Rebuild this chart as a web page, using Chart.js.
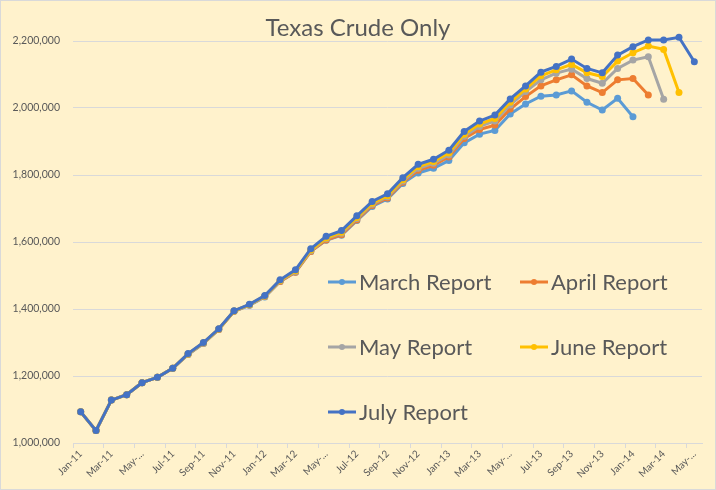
<!DOCTYPE html>
<html>
<head>
<meta charset="utf-8">
<title>Texas Crude Only</title>
<script src="https://cdn.jsdelivr.net/npm/chart.js@4.4.1/dist/chart.umd.min.js"></script>
<style>
    html, body { margin: 0; padding: 0; background: #fff2cc; }
    #wrap { width: 716px; height: 490px; }
</style>
</head>
<body>
<div id="wrap"><canvas id="crudeChart" width="716" height="490"></canvas></div>
<script>
// 月份标签 (Jan-11 .. May-14)
const months = [
    'Jan-11', 'Feb-11', 'Mar-11', 'Apr-11', 'May-11', 'Jun-11', 'Jul-11', 'Aug-11', 'Sep-11', 'Oct-11', 'Nov-11', 'Dec-11',
    'Jan-12', 'Feb-12', 'Mar-12', 'Apr-12', 'May-12', 'Jun-12', 'Jul-12', 'Aug-12', 'Sep-12', 'Oct-12', 'Nov-12', 'Dec-12',
    'Jan-13', 'Feb-13', 'Mar-13', 'Apr-13', 'May-13', 'Jun-13', 'Jul-13', 'Aug-13', 'Sep-13', 'Oct-13', 'Nov-13', 'Dec-13',
    'Jan-14', 'Feb-14', 'Mar-14', 'Apr-14', 'May-14'
];

// 各期报告数据 (桶/日)
const marchReport = [
    1093000, 1037000, 1128000, 1144000, 1180000, 1196000, 1223000, 1264000, 1297000, 1339000, 1393000, 1411000,
    1436000, 1482000, 1510000, 1572000, 1605000, 1620000, 1664000, 1706000, 1728000, 1775000, 1806000, 1820000,
    1843000, 1896000, 1922000, 1933000, 1982000, 2012000, 2035000, 2039000, 2051000, 2017000, 1994000, 2029000,
    1974000
];
const aprilReport = [
    1093000, 1037000, 1128000, 1144000, 1180000, 1196000, 1223000, 1265000, 1298000, 1339000, 1393000, 1412000,
    1437000, 1482000, 1510000, 1572000, 1606000, 1622000, 1666000, 1709000, 1731000, 1778000, 1814000, 1829000,
    1854000, 1909000, 1936000, 1949000, 1997000, 2034000, 2066000, 2084000, 2099000, 2066000, 2046000, 2084000,
    2088000, 2039000
];
const mayReport = [
    1093000, 1037000, 1128000, 1144000, 1180000, 1196000, 1223000, 1265000, 1298000, 1340000, 1394000, 1412000,
    1438000, 1484000, 1512000, 1574000, 1610000, 1626000, 1670000, 1713000, 1735000, 1782000, 1820000, 1835000,
    1860000, 1916000, 1945000, 1961000, 2009000, 2049000, 2084000, 2104000, 2116000, 2088000, 2074000, 2118000,
    2143000, 2153000, 2026000
];
const juneReport = [
    1093000, 1037000, 1128000, 1144000, 1180000, 1196000, 1223000, 1266000, 1299000, 1340000, 1394000, 1413000,
    1439000, 1485000, 1514000, 1576000, 1612000, 1629000, 1673000, 1716000, 1738000, 1786000, 1825000, 1840000,
    1866000, 1922000, 1952000, 1969000, 2017000, 2057000, 2096000, 2114000, 2130000, 2105000, 2094000, 2140000,
    2165000, 2185000, 2175000, 2046000
];
const julyReport = [
    1093000, 1037000, 1128000, 1144000, 1180000, 1196000, 1223000, 1267000, 1300000, 1341000, 1395000, 1414000,
    1440000, 1487000, 1517000, 1580000, 1617000, 1634000, 1678000, 1721000, 1744000, 1792000, 1832000, 1847000,
    1874000, 1930000, 1961000, 1979000, 2027000, 2066000, 2107000, 2124000, 2146000, 2118000, 2105000, 2158000,
    2183000, 2203000, 2203000, 2211000, 2138000
];

const seriesNames = ['March Report', 'April Report', 'May Report', 'June Report', 'July Report'];
const seriesColors = ['#5b9bd5', '#ed7d31', '#a5a5a5', '#ffc000', '#4472c4'];
const seriesData = [marchReport, aprilReport, mayReport, juneReport, julyReport];

const textColor = '#595959';
const gridColor = '#d9d9d9';
const fontFamily = 'Lato, "Open Sans", sans-serif';

// 背景和边框
const backgroundPlugin = {
    id: 'background',
    beforeDraw(chart) {
        const ctx = chart.ctx;
        ctx.save();
        ctx.fillStyle = '#fff2cc';
        ctx.fillRect(0, 0, chart.width, chart.height);
        ctx.strokeStyle = gridColor;
        ctx.lineWidth = 1;
        ctx.strokeRect(0.5, 0.5, chart.width - 1, chart.height - 1);
        ctx.restore();
    }
};

// 图表内部的图例 (两列)
const insideLegendPlugin = {
    id: 'insideLegend',
    afterDraw(chart) {
        const ctx = chart.ctx;
        const colX = [328, 520];
        const rowY = [282, 347, 412];
        ctx.save();
        ctx.font = '22px ' + fontFamily;
        ctx.textBaseline = 'middle';
        chart.data.datasets.forEach(function(ds, i) {
            const x = colX[i % 2];
            const y = rowY[Math.floor(i / 2)];
            ctx.strokeStyle = ds.borderColor;
            ctx.lineWidth = 3;
            ctx.beginPath();
            ctx.moveTo(x, y);
            ctx.lineTo(x + 28, y);
            ctx.stroke();
            ctx.fillStyle = ds.borderColor;
            ctx.beginPath();
            ctx.arc(x + 14, y, 3, 0, Math.PI * 2);
            ctx.fill();
            ctx.fillStyle = textColor;
            ctx.fillText(ds.label, x + 31, y + 1);
        });
        ctx.restore();
    }
};

function initChart() {
    const ctx = document.getElementById('crudeChart').getContext('2d');
    const datasets = seriesNames.map(function(name, i) {
        return {
            label: name,
            data: seriesData[i],
            borderColor: seriesColors[i],
            backgroundColor: seriesColors[i],
            borderWidth: 3,
            pointRadius: 3.5,
            pointBorderWidth: 0,
            tension: 0,
            clip: false,
            order: seriesNames.length - 1 - i
        };
    });

    new Chart(ctx, {
        type: 'line',
        data: { labels: months, datasets: datasets },
        options: {
            responsive: false,
            animation: false,
            layout: { padding: 0 },
            plugins: {
                legend: { display: false },
                tooltip: { enabled: false },
                title: {
                    display: true,
                    text: 'Texas Crude Only',
                    color: textColor,
                    font: { family: fontFamily, size: 24, weight: 'normal', lineHeight: 1 },
                    padding: { top: 16, bottom: 1 }
                }
            },
            scales: {
                x: {
                    type: 'category',
                    offset: true,
                    afterFit: function(scale) { scale.height = 47; },
                    border: { color: gridColor },
                    grid: {
                        offset: true,
                        drawOnChartArea: false,
                        tickLength: 5,
                        color: function(c) { return c.index % 2 === 0 ? gridColor : 'rgba(0,0,0,0)'; }
                    },
                    ticks: {
                        autoSkip: false,
                        maxRotation: 45,
                        minRotation: 45,
                        padding: 0,
                        color: textColor,
                        font: { family: fontFamily, size: 10 },
                        callback: function(value, index) {
                            if (index % 2 !== 0) return '';
                            const label = this.getLabelForValue(value);
                            return label.indexOf('May') === 0 ? 'May-...' : label;
                        }
                    }
                },
                y: {
                    min: 1000000,
                    max: 2200000,
                    afterFit: function(scale) { scale.width = 73; },
                    border: { display: false },
                    grid: { color: gridColor, drawTicks: false },
                    ticks: {
                        stepSize: 200000,
                        padding: 13,
                        color: textColor,
                        font: { family: fontFamily, size: 10.5 },
                        callback: function(v) { return v.toLocaleString('en-US'); }
                    }
                },
                // 右侧留白用的空轴
                yRight: {
                    position: 'right',
                    afterFit: function(scale) { scale.width = 14; },
                    border: { display: false },
                    grid: { display: false },
                    ticks: { display: false }
                }
            }
        },
        plugins: [backgroundPlugin, insideLegendPlugin]
    });
}

document.addEventListener('DOMContentLoaded', initChart);
</script>
</body>
</html>
